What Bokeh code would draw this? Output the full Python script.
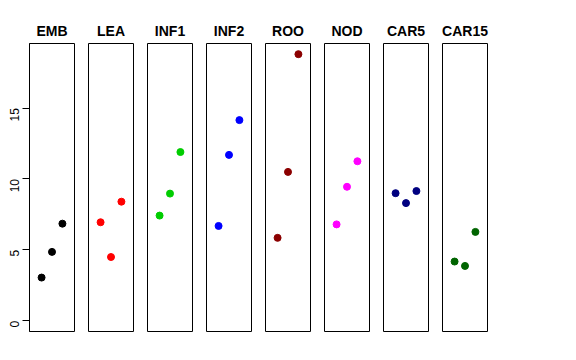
from bokeh.plotting import figure
from bokeh.layouts import row
from bokeh.models import Range1d, FixedTicker, ColumnDataSource
from bokeh.embed import file_html
from bokeh.resources import INLINE
import math

categories = ["EMB", "LEA", "INF1", "INF2", "ROO", "NOD", "CAR5", "CAR15"]
colors = ["black", "red", "#00CD00", "blue", "#8B0000", "magenta", "#000080", "#006400"]
positions = [1, 2, 3]
emb = [3.05, 4.86, 6.85]
lea = [6.95, 4.5, 8.4]
inf1 = [7.42, 8.97, 11.9]
inf2 = [6.69, 11.7, 14.15]
roo = [5.85, 10.5, 18.8]
nod = [6.8, 9.45, 11.25]
car5 = [9.0, 8.3, 9.15]
car15 = [4.18, 3.87, 6.27]
series = [emb, lea, inf1, inf2, roo, nod, car5, car15]
y_ticks = [0, 5, 10, 15]

ymax = max(max(s) for s in series)
ymin = 0
yext = (ymax - ymin) * 0.04
xext = 4 * 0.04

figs = []
for i, (cat, col, vals) in enumerate(zip(categories, colors, series)):
    first = i == 0
    p = figure(
        frame_width=45, frame_height=288,
        x_range=Range1d(0 - xext, 4 + xext),
        y_range=Range1d(ymin - yext, ymax + yext),
        output_backend="svg", toolbar_location=None,
        min_border_left=29 if first else 7, min_border_right=7,
        min_border_top=43, min_border_bottom=24,
        title=cat,
    )
    p.title.align = "center"
    p.title.text_font = "Liberation Sans"
    p.title.text_font_style = "bold"
    p.title.text_font_size = "14px"
    p.title.text_color = "black"
    p.title.standoff = 9
    p.xaxis.visible = False
    p.xgrid.visible = False
    p.ygrid.visible = False
    p.outline_line_color = "black"
    p.outline_line_width = 1
    p.outline_line_alpha = 1
    p.background_fill_color = "white"
    p.border_fill_color = "white"
    if first:
        ax = p.yaxis[0]
        ax.ticker = FixedTicker(ticks=y_ticks)
        ax.major_label_orientation = math.pi / 2
        ax.major_label_text_font = "Liberation Sans"
        ax.major_label_text_font_size = "12px"
        ax.major_label_text_color = "black"
        ax.major_tick_out = 7
        ax.major_tick_in = 0
        ax.minor_tick_out = 0
        ax.minor_tick_in = 0
        ax.major_label_standoff = 8
        ax.axis_line_color = "black"
        ax.major_tick_line_color = "black"
    else:
        p.yaxis.visible = False
    src = ColumnDataSource(dict(x=positions, y=vals))
    p.scatter("x", "y", source=src, size=7, color=col, line_color=col)
    figs.append(p)

layout = row(*figs, spacing=0)
open("out.html", "w").write(file_html(layout, INLINE))
